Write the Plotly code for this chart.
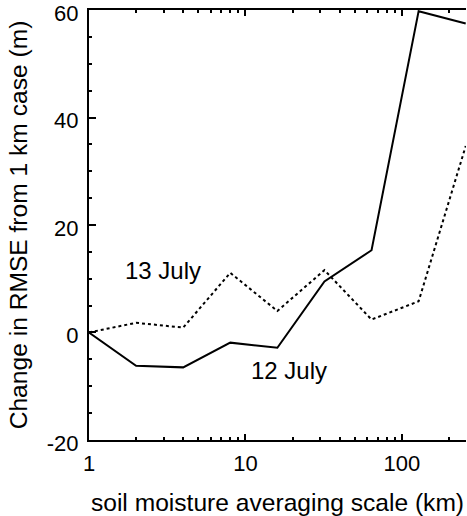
import plotly.graph_objects as go

scale_km = [1, 2, 4, 8, 16, 32, 64, 128, 256]
july12 = [0, -6.2, -6.5, -1.9, -2.85, 9.5, 15.3, 59.8, 57.5]
july13 = [0, 1.8, 0.9, 11.1, 4.0, 11.6, 2.4, 5.8, 34.7]
x_ticks = [1, 10, 100]
x_minor = [2, 3, 4, 5, 6, 7, 8, 9, 20, 30, 40, 50, 60, 70, 80, 90, 200]
y_ticks = [-20, 0, 20, 40, 60]
y_labels = ["-20", "0", "20", "40", "60"]
y_minor = [-15, -10, -5, 5, 10, 15, 25, 30, 35, 45, 50, 55]

FONT = "Liberation Sans, Arial, Helvetica, sans-serif"
fs_tick = 22
fs_title = 24.6
fs_ann = 24
XR = [0, 2.41]
YR = [-20.02, 60.02]

fig = go.Figure()
fig.add_trace(go.Scatter(x=scale_km, y=july12, mode="lines",
                         line=dict(color="black", width=2), showlegend=False))
fig.add_trace(go.Scatter(x=scale_km, y=july13, mode="lines",
                         line=dict(color="black", width=2, dash="dot"), showlegend=False))
# invisible trace on minor-tick axes
fig.add_trace(go.Scatter(x=[1], y=[0], xaxis="x2", yaxis="y2", mode="markers",
                         marker=dict(opacity=0), showlegend=False, hoverinfo="skip"))

fig.add_annotation(x=0.474, y=11.6, xref="x", yref="y", text="13 July",
                   showarrow=False, font=dict(size=fs_ann, color="black", family=FONT))
fig.add_annotation(x=1.276, y=-7.1, xref="x", yref="y", text="12 July",
                   showarrow=False, font=dict(size=fs_ann, color="black", family=FONT))

fig.update_layout(
    width=467, height=516,
    margin=dict(l=89, r=1, t=10, b=76),
    paper_bgcolor="white", plot_bgcolor="white",
    font=dict(family=FONT, color="black"),
    xaxis=dict(type="log", range=XR, tickvals=x_ticks,
               ticktext=[str(v) for v in x_ticks],
               ticks="inside", ticklen=6, tickwidth=2, tickcolor="black",
               showline=True, linecolor="black", linewidth=2, mirror="ticks",
               showgrid=False, zeroline=False, automargin=False,
               ticklabeloverflow="allow", ticklabelstandoff=3,
               tickfont=dict(size=fs_tick, color="black", family=FONT),
               title=dict(text="soil moisture averaging scale (km)", standoff=18,
                          font=dict(size=fs_title, color="black", family=FONT))),
    yaxis=dict(range=YR, tickvals=y_ticks, ticktext=y_labels,
               ticks="inside", ticklen=7, tickwidth=2, tickcolor="black",
               showline=True, linecolor="black", linewidth=2, mirror=False,
               showgrid=False, zeroline=False, automargin=False,
               ticklabeloverflow="allow", ticklabelstandoff=4, ticklabelshift=3,
               tickfont=dict(size=fs_tick, color="black", family=FONT),
               title=dict(text="Change in RMSE from 1 km case (m)", standoff=12,
                          font=dict(size=fs_title, color="black", family=FONT))),
    xaxis2=dict(type="log", range=XR, overlaying="x", anchor="y2",
                tickvals=x_minor, showticklabels=False,
                ticks="inside", ticklen=3, tickwidth=2, tickcolor="black",
                showline=False, mirror="ticks", showgrid=False, zeroline=False,
                automargin=False),
    yaxis2=dict(range=YR, overlaying="y", anchor="x2", side="left",
                tickvals=y_minor, showticklabels=False,
                ticks="inside", ticklen=3, tickwidth=2, tickcolor="black",
                showline=False, showgrid=False, zeroline=False, automargin=False),
)

fig.write_html("out.html", config={"displayModeBar": False},
               post_script="document.body.style.margin='0';")
